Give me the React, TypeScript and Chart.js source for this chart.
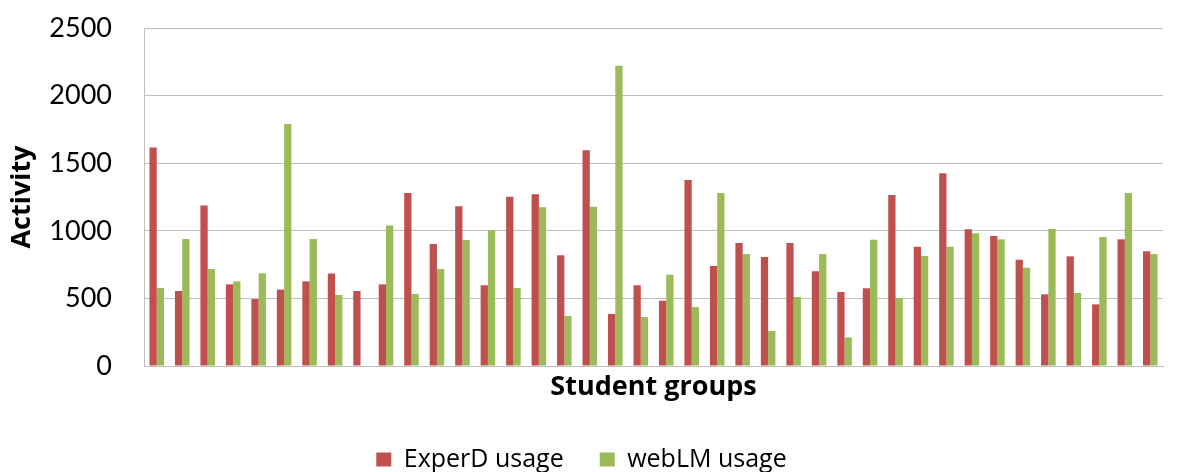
import React, { useEffect, useRef } from "react";
import { Chart, registerables } from "chart.js";

Chart.register(...registerables);

const categories = [
  "1", "2", "3", "4", "5", "6", "7", "8", "9", "10",
  "11", "12", "13", "14", "15", "16", "17", "18", "19", "20",
  "21", "22", "23", "24", "25", "26", "27", "28", "29", "30",
  "31", "32", "33", "34", "35", "36", "37", "38", "39", "40",
];

const experD = [
  1617, 555, 1188, 604, 495, 565, 626, 685, 555, 604,
  1280, 902, 1181, 597, 1252, 1270, 819, 1595, 385, 597,
  483, 1376, 740, 910, 806, 910, 700, 547, 575, 1265,
  882, 1425, 1011, 962, 786, 530, 811, 456, 937, 848,
];

const webLM = [
  577, 939, 717, 626, 685, 1790, 939, 525, 0, 1040,
  533, 717, 932, 1006, 577, 1174, 370, 1178, 2221, 362,
  675, 436, 1280, 828, 259, 510, 828, 212, 934, 503,
  814, 882, 981, 937, 727, 1013, 540, 954, 1280, 828,
];

const yTicks = [0, 500, 1000, 1500, 2000, 2500];
const seriesNames = ["ExperD usage", "webLM usage"];
const seriesColors = ["#C0504D", "#9BBB59"];
const xTitle = "Student groups";
const yTitle = "Activity";

const TICK_FONT = "Lato, 'Open Sans', sans-serif";
const TEXT_FONT = "'Open Sans', Lato, sans-serif";

export default function App() {
  const ref = useRef<HTMLCanvasElement>(null);

  useEffect(() => {
    if (!ref.current) return;
    const chart = new Chart(ref.current, {
      type: "bar",
      data: {
        labels: categories,
        datasets: [
          {
            label: seriesNames[0],
            data: experD,
            backgroundColor: seriesColors[0],
            borderWidth: 0,
            categoryPercentage: 0.571,
            barPercentage: 1,
          },
          {
            label: seriesNames[1],
            data: webLM,
            backgroundColor: seriesColors[1],
            borderWidth: 0,
            categoryPercentage: 0.571,
            barPercentage: 1,
          },
        ],
      },
      options: {
        animation: false,
        responsive: false,
        layout: { autoPadding: false, padding: { left: 0, right: 17, top: 28, bottom: 0 } },
        plugins: {
          legend: {
            position: "bottom",
            labels: {
              font: { family: TEXT_FONT, size: 25 },
              color: "#000",
              boxWidth: 15,
              boxHeight: 14,
              padding: 36,
            },
          },
          tooltip: { enabled: false },
        },
        scales: {
          x: {
            grid: { display: false, drawTicks: false },
            border: { display: true, color: "#bfbfbf" },
            ticks: { display: false },
            title: {
              display: true,
              text: xTitle,
              color: "#000",
              font: { family: TEXT_FONT, size: 27, weight: "bold" },
              padding: { top: 0, bottom: 7 },
            },
            afterFit: (s: any) => {
              s.height = 45;
              s.paddingLeft = 0;
              s.paddingRight = 0;
            },
          },
          y: {
            min: 0,
            max: 2500,
            afterBuildTicks: (s: any) => {
              s.ticks = yTicks.map((v) => ({ value: v }));
            },
            grid: { color: "#bfbfbf", drawTicks: false },
            border: { display: true, color: "#bfbfbf" },
            ticks: {
              color: "#000",
              font: { family: TICK_FONT, size: 27 },
              padding: 32,
              callback: (v: any) => String(v),
            },
            title: {
              display: true,
              text: yTitle,
              color: "#000",
              font: { family: TEXT_FONT, size: 27, weight: "bold" },
              padding: { top: 6, bottom: 0 },
            },
            afterFit: (s: any) => {
              s.width = 144;
              s.paddingTop = 0;
              s.paddingBottom = 0;
            },
          },
        },
      },
    });
    return () => chart.destroy();
  }, []);

  return (
    <div
      style={{
        position: "fixed",
        left: 0,
        top: 0,
        width: 1180,
        height: 472,
        overflow: "hidden",
        background: "#fff",
      }}
    >
      <canvas ref={ref} width={1180} height={482} style={{ display: "block" }} />
    </div>
  );
}
